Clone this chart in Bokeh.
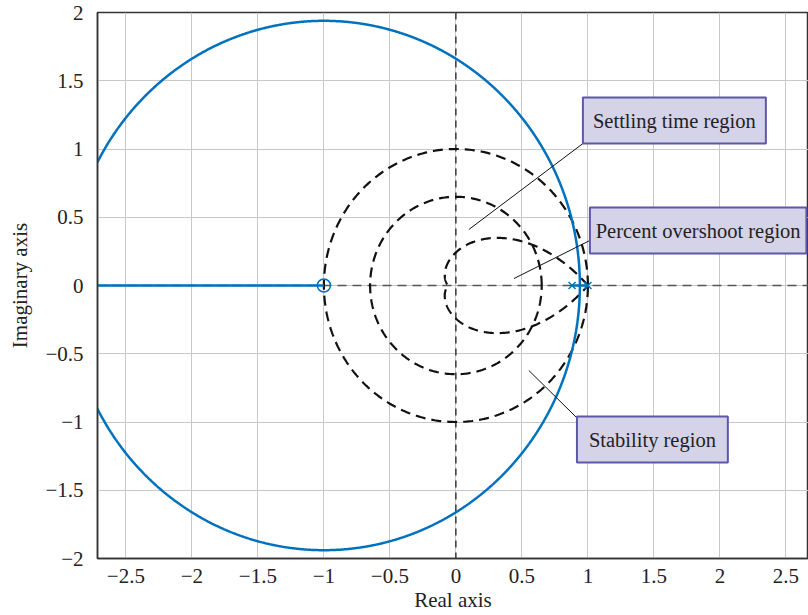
import numpy as np
from bokeh.plotting import figure
from bokeh.models import Span, FixedTicker
from bokeh.core.properties import value
from bokeh.embed import file_html
from bokeh.resources import INLINE

# ---------------- data ----------------
open_loop_poles = [0.88, 1.0]
open_loop_zeros = [-1.0]
stability_radius = 1.0
settling_radius = 0.65
overshoot_zeta = 0.67
x_ticks = [-2.5, -2, -1.5, -1, -0.5, 0, 0.5, 1, 1.5, 2, 2.5]
x_tick_labels = ["\u22122.5", "\u22122", "\u22121.5", "\u22121", "\u22120.5", "0", "0.5", "1", "1.5", "2", "2.5"]
y_ticks = [-2, -1.5, -1, -0.5, 0, 0.5, 1, 1.5, 2]
y_tick_labels = ["\u22122", "\u22121.5", "\u22121", "\u22120.5", "0", "0.5", "1", "1.5", "2"]
region_labels = ["Settling time region", "Percent overshoot region", "Stability region"]

# ---------------- root locus from the open-loop poles / zero ----------------
den = np.poly(open_loop_poles)
num = np.poly(open_loop_zeros)
num = np.concatenate([np.zeros(len(den) - len(num)), num])
gains = np.concatenate([np.linspace(0, 0.01, 600), np.geomspace(0.01, 1e5, 6000)])
up_x, up_y, lo_x, lo_y = [], [], [], []
for k in gains:
    r = np.roots(den + k * num)
    if abs(r[0].imag) > 1e-12:
        a = r[0] if r[0].imag > 0 else r[1]
        b = np.conj(a)
    else:
        rs = np.sort(r.real)
        a, b = complex(rs[1]), complex(rs[0])
    up_x.append(a.real); up_y.append(a.imag)
    if b.real > -4:
        lo_x.append(b.real); lo_y.append(b.imag)

# region boundaries
th = np.linspace(0, 2 * np.pi, 400)
c1x, c1y = stability_radius * np.cos(th), stability_radius * np.sin(th)
c2x, c2y = settling_radius * np.cos(th), settling_radius * np.sin(th)
ts = np.linspace(0, np.pi, 300)
a_z = overshoot_zeta / np.sqrt(1 - overshoot_zeta ** 2)
rad = np.exp(-a_z * ts)
sx = np.concatenate([rad * np.cos(ts), (rad * np.cos(ts))[::-1]])
sy = np.concatenate([rad * np.sin(ts), -(rad * np.sin(ts))[::-1]])

# ---------------- figure ----------------
BLUE = "#0072bd"
FONT = value("Liberation Serif")
p = figure(width=808, height=615, x_range=(-2.715, 2.671), y_range=(-2, 2),
           output_backend="svg", toolbar_location=None,
           min_border_left=97, min_border_right=0, min_border_top=12, min_border_bottom=57)
p.outline_line_color = "#333333"
p.outline_line_width = 1.5
p.background_fill_color = "white"
p.border_fill_color = "white"

p.xaxis.ticker = FixedTicker(ticks=x_ticks)
p.yaxis.ticker = FixedTicker(ticks=y_ticks)
p.xaxis.major_label_overrides = dict(zip(x_ticks, x_tick_labels))
p.yaxis.major_label_overrides = dict(zip(y_ticks, y_tick_labels))
p.xgrid.ticker = FixedTicker(ticks=x_ticks)
p.ygrid.ticker = FixedTicker(ticks=y_ticks)
p.grid.grid_line_color = "#c8c8c8"
p.grid.grid_line_width = 1

for ax in (p.xaxis, p.yaxis):
    ax.major_label_text_font = "Liberation Serif"
    ax.major_label_text_font_size = "21px"
    ax.major_label_text_color = "#222222"
    ax.axis_label_text_font = "Liberation Serif"
    ax.axis_label_text_font_size = "21px"
    ax.axis_label_text_font_style = "normal"
    ax.axis_label_text_color = "#222222"
    ax.major_tick_line_color = None
    ax.minor_tick_line_color = None
    ax.axis_line_color = "#333333"
    ax.axis_line_width = 1.5
p.xaxis.axis_label = "Real axis"
p.yaxis.axis_label = "Imaginary axis"
p.xaxis.major_label_standoff = 4
p.xaxis.axis_label_standoff = 2
p.yaxis.major_label_standoff = 8
p.yaxis.axis_label_standoff = 10

# axes through origin
p.add_layout(Span(location=0, dimension="width", line_color="#555555",
                  line_dash="9 6", line_width=1.5, level="underlay"))
p.add_layout(Span(location=0, dimension="height", line_color="#111111",
                  line_dash="7 5", line_width=1.2, level="underlay"))

# region boundaries (dashed)
for xs, ys in ((c1x, c1y), (c2x, c2y), (sx, sy)):
    p.line(xs, ys, line_color="#111111", line_width=2.2, line_dash="10 6")

# root locus
p.line(up_x, up_y, line_color=BLUE, line_width=2.5)
p.line(lo_x, lo_y, line_color=BLUE, line_width=2.5)
p.scatter(open_loop_poles, [0] * len(open_loop_poles), marker="x", size=10,
          line_color=BLUE, line_width=1.5)
p.scatter(open_loop_zeros, [0] * len(open_loop_zeros), marker="circle", size=13,
          fill_color=None, line_color=BLUE, line_width=1.5)

# annotation leaders and boxes
p.segment(x0=[0.098, 0.44, 0.553], y0=[0.41, 0.051, -0.623],
          x1=[0.962, 1.015, 0.917], y1=[1.04, 0.33, -0.97],
          line_color="#111111", line_width=1)
box_left = [0.962, 1.015, 0.917]
box_right = [2.348, 2.655, 2.06]
box_bottom = [1.04, 0.234, -1.297]
box_top = [1.377, 0.571, -0.96]
p.quad(left=box_left, right=box_right, bottom=box_bottom, top=box_top,
       fill_color="#d5d3e8", line_color="#5d57a8", line_width=2)
p.text(x=[(l + r) / 2 for l, r in zip(box_left, box_right)],
       y=[(b + t) / 2 for b, t in zip(box_bottom, box_top)],
       text=region_labels, text_font=FONT, text_font_size="20.5px",
       text_align="center", text_baseline="middle", text_color="#222222")

open("out.html", "w").write(file_html(p, INLINE))
